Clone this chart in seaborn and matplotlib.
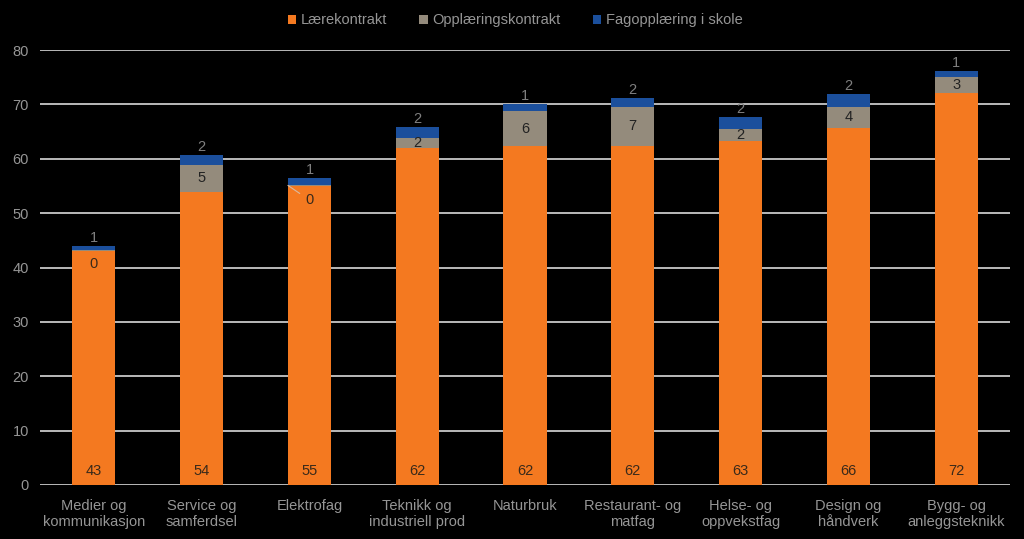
import matplotlib
matplotlib.use("Agg")
import matplotlib.pyplot as plt
import seaborn as sns
import pandas as pd
import numpy as np

categories = ["Medier og\nkommunikasjon", "Service og\nsamferdsel", "Elektrofag",
              "Teknikk og\nindustriell prod", "Naturbruk", "Restaurant- og\nmatfag",
              "Helse- og\noppvekstfag", "Design og\nhåndverk", "Bygg- og\nanleggsteknikk"]
laerekontrakt = [43.1, 53.9, 55.0, 62.0, 62.4, 62.4, 63.3, 65.7, 72.1]
opplaeringskontrakt = [0.2, 5.0, 0.2, 1.8, 6.3, 7.1, 2.2, 3.8, 2.9]
fagopplaering = [0.6, 1.8, 1.2, 2.0, 1.3, 1.6, 2.2, 2.4, 1.1]
series_names = ["Lærekontrakt", "Opplæringskontrakt", "Fagopplæring i skole"]

ORANGE = "#F47920"
GRAY = "#948B7C"
BLUE = "#1B4F9C"
TXT = "#969696"
BG = "#000000"

sns.set_theme(style="white")
plt.rcParams["font.family"] = ["Liberation Sans", "DejaVu Sans"]

fig = plt.figure(figsize=(10.24, 5.39), dpi=100, facecolor=BG)
ax = fig.add_axes([40/1024, 1-485/539, 970/1024, 435/539])
ax.set_facecolor(BG)

o = np.array(laerekontrakt)
g = np.array(opplaeringskontrakt)
b = np.array(fagopplaering)
df = pd.DataFrame({"cat": categories, "top": o + g + b, "mid": o + g, "low": o})

for col, colr in [("top", BLUE), ("mid", GRAY), ("low", ORANGE)]:
    sns.barplot(data=df, x="cat", y=col, color=colr, width=0.4, ax=ax,
                saturation=1, linewidth=0, zorder=3)

ax.set_ylim(0, 80)
ax.set_xlim(-0.5, 8.5)
ax.set_yticks(range(0, 81, 10))
ax.yaxis.grid(True, color="#D9D9D9", linewidth=1.2, zorder=0)
ax.set_axisbelow(True)
for s in ax.spines.values():
    s.set_visible(False)
ax.tick_params(axis="both", length=0, colors=TXT, labelsize=10.5, pad=8)
ax.set_xlabel("")
ax.set_ylabel("")
ax.tick_params(axis="x", pad=10)

for i in range(len(categories)):
    ax.text(i, 2.6, f"{o[i]:.0f}", ha="center", va="center", color="#3A2A1A",
            fontsize=10.5, zorder=5)
    if i == 0:
        ax.text(i, 40.6, f"{g[i]:.0f}", ha="center", va="center", color="#3A2A1A",
                fontsize=10.5, zorder=5)
    elif i == 2:
        ax.annotate(f"{g[i]:.0f}", xy=(i - 0.2, o[i] + g[i] / 2), xytext=(i, 52.4),
                    ha="center", va="center", color="#3A2A1A", fontsize=10.5, zorder=5,
                    arrowprops=dict(arrowstyle="-", color="#D9B9A0", lw=0.8,
                                    shrinkA=2, shrinkB=0))
    else:
        ax.text(i, o[i] + g[i] / 2, f"{g[i]:.0f}", ha="center", va="center",
                color="#222222", fontsize=10.5, zorder=5)
    ax.text(i, o[i] + g[i] + b[i] + 1.5, f"{b[i]:.0f}", ha="center", va="center",
            color="#7F7F7F", fontsize=10.5, zorder=5, clip_on=False)

from matplotlib.patches import Patch
handles = [Patch(facecolor=c, edgecolor="none") for c in (ORANGE, GRAY, BLUE)]
leg = fig.legend(handles, series_names, loc="center", bbox_to_anchor=(0.503, 0.962),
                 ncol=3, frameon=False, fontsize=10.5, handlelength=0.6, handleheight=0.6,
                 handletextpad=0.3, columnspacing=2.2)
for t in leg.get_texts():
    t.set_color(TXT)

fig.savefig("out.png", dpi=100, facecolor=BG)
